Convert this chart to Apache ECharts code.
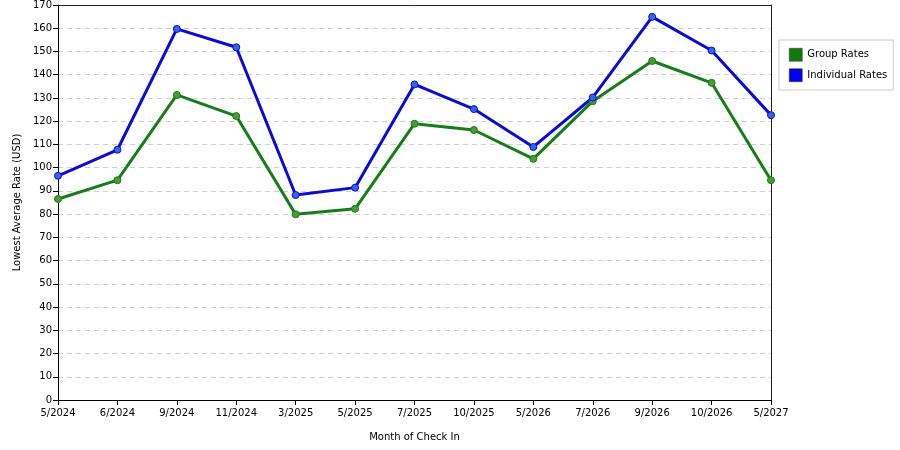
<!DOCTYPE html>
<html><head><meta charset="utf-8">
<script src="https://cdn.jsdelivr.net/npm/echarts@6/dist/echarts.min.js"></script>
<style>html,body{margin:0;padding:0;background:#fff}#c{width:900px;height:450px}</style>
</head><body><div id="c"></div>
<script>
const categories = ['5/2024','6/2024','9/2024','11/2024','3/2025','5/2025','7/2025','10/2025','5/2026','7/2026','9/2026','10/2026','5/2027'];
const groupRates = [86.5, 94.6, 131.3, 122.2, 79.9, 82.3, 118.9, 116.2, 103.8, 128.6, 145.9, 136.5, 94.6];
const individualRates = [96.5, 107.7, 159.7, 151.8, 88.2, 91.4, 135.8, 125.2, 108.9, 130.2, 164.9, 150.4, 122.6];
const yTicks = {min: 0, max: 170, interval: 10};

const font = 'DejaVu Sans';
const chart = echarts.init(document.getElementById('c'), null, {renderer: 'canvas'});
function series(name, data, color, marker) {
  return {
    name, type: 'line', data, z: 5,
    symbol: 'circle', symbolSize: 7,
    lineStyle: {color, width: 3},
    itemStyle: {color: marker, borderColor: color, borderWidth: 1},
    emphasis: {disabled: true}
  };
}
const frameAxis = {show: true, axisLine: {show: true, onZero: false, lineStyle: {color: '#222', width: 1}}, axisTick: {show: false}, axisLabel: {show: false}, splitLine: {show: false}};
chart.setOption({
  animation: false,
  grid: {left: 58, right: 129, top: 5, bottom: 50},
  legend: {
    orient: 'vertical', left: 779, top: 40,
    padding: [8, 6, 8, 10], itemGap: 7, itemWidth: 13, itemHeight: 13,
    borderColor: '#ccc', borderWidth: 1, backgroundColor: '#fff',
    icon: 'rect',
    textStyle: {fontFamily: font, fontSize: 10, color: '#000'},
    data: [
      {name: 'Group Rates', itemStyle: {color: '#0f7a0f', borderColor: '#333', borderWidth: 0.5}},
      {name: 'Individual Rates', itemStyle: {color: '#0000ee', borderColor: '#333', borderWidth: 0.5}}
    ]
  },
  xAxis: [{
    type: 'category', data: categories, boundaryGap: false,
    name: 'Month of Check In', nameLocation: 'middle', nameGap: 32,
    nameTextStyle: {fontFamily: font, fontSize: 10, color: '#000'},
    axisLine: {lineStyle: {color: '#000', width: 1}},
    axisTick: {show: true, alignWithLabel: true, length: 5, lineStyle: {color: '#000'}},
    axisLabel: {fontFamily: font, fontSize: 10, color: '#000', margin: 8, interval: 0},
    splitLine: {show: false}
  }, Object.assign({type: 'category', data: categories, boundaryGap: false, position: 'top'}, frameAxis)],
  yAxis: [{
    type: 'value', min: yTicks.min, max: yTicks.max, interval: yTicks.interval,
    name: 'Lowest Average Rate (USD)', nameLocation: 'middle', nameGap: 35,
    nameTextStyle: {fontFamily: font, fontSize: 10, color: '#000'},
    axisLine: {show: true, lineStyle: {color: '#000', width: 1}},
    axisTick: {show: true, length: 5, lineStyle: {color: '#000'}},
    axisLabel: {fontFamily: font, fontSize: 10, color: '#000', margin: 6},
    splitLine: {show: true, lineStyle: {color: '#d0d0d0', type: [5, 4], width: 1}}
  }, Object.assign({type: 'value', min: yTicks.min, max: yTicks.max, interval: yTicks.interval, position: 'right'}, frameAxis)],
  series: [
    series('Group Rates', groupRates, '#177d17', '#4a9a3a'),
    series('Individual Rates', individualRates, '#0b0bd6', '#3366e6')
  ]
});
</script></body></html>
